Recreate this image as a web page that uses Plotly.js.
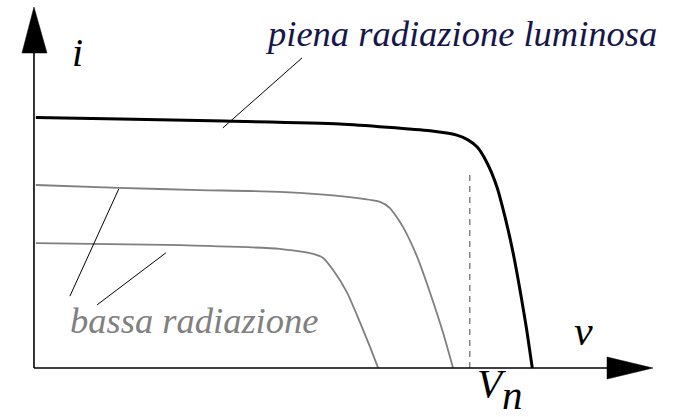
<!DOCTYPE html>
<html>
<head>
<meta charset="utf-8">
<script src="https://cdn.plot.ly/plotly-3.0.1.min.js"></script>
<style>html,body{margin:0;padding:0;background:#fff;}#chart{width:673px;height:417px;}</style>
</head>
<body>
<div id="chart"></div>
<script>
// Curve data (arbitrary units: v along x, i along y)
const fullV = [0.3, 13.9, 30.7, 49.4, 64.0, 68.3, 70.1, 71.6, 73.2, 74.8, 76.1, 77.4, 78.8, 79.6, 80.5];
const fullI = [69.4, 69.0, 68.4, 67.6, 65.7, 64.5, 63.2, 61.2, 56.8, 50.1, 41.8, 31.9, 18.8, 10.5, 0];

const lowV1 = [0.3, 13.7, 26.8, 39.7, 50.6, 55.9, 57.5, 59.6, 61.9, 64.0, 66.1, 67.7];
const lowI1 = [50.7, 49.9, 49.3, 48.8, 47.4, 46.0, 44.3, 39.1, 30.8, 20.8, 9.7, 0];

const lowV2 = [0.3, 21.3, 39.7, 45.1, 46.7, 48.3, 50.6, 52.7, 54.3, 55.6];
const lowI2 = [34.6, 34.1, 33.0, 31.6, 30.5, 27.2, 20.8, 12.5, 5.8, 0];

const vnX = [70.4, 70.4];
const vnY = [0, 54.3];

const labels = {
  full: 'piena radiazione luminosa',
  low: 'bassa radiazione',
  i: 'i',
  v: 'v',
  Vn: 'V<sub style="font-size:41px !important">n</sub>'
};

const serif = 'Liberation Serif, Times New Roman, serif';

const traces = [
  {x: fullV, y: fullI, mode: 'lines', line: {color: '#000', width: 3, shape: 'spline', smoothing: 0.6}},
  {x: lowV1, y: lowI1, mode: 'lines', line: {color: '#7f7f7f', width: 1.8, shape: 'spline', smoothing: 0.6}},
  {x: lowV2, y: lowI2, mode: 'lines', line: {color: '#7f7f7f', width: 1.8, shape: 'spline', smoothing: 0.6}},
  {x: vnX, y: vnY, mode: 'lines', line: {color: '#666', width: 1.2, dash: '6px,5px'}}
];

const shapes = [
  // axes
  {type: 'line', x0: 0, y0: 0, x1: 93, y1: 0, line: {color: '#000', width: 1.6}},
  {type: 'line', x0: 0, y0: 0, x1: 0, y1: 88, line: {color: '#000', width: 1.6}},
  {type: 'path', path: 'M 92.57 3.05 L 100 0 L 92.57 -3.05 Z', fillcolor: '#000', line: {color: '#000', width: 0.5}},
  {type: 'path', path: 'M -1.94 87.26 L 0 100 L 2.10 87.26 Z', fillcolor: '#000', line: {color: '#000', width: 0.5}},
  // leader lines
  {type: 'line', x0: 43.3, y0: 85.9, x1: 30.5, y1: 66.5, line: {color: '#000', width: 1}},
  {type: 'line', x0: 13.7, y0: 49.6, x1: 5.8, y1: 19.9, line: {color: '#000', width: 1}},
  {type: 'line', x0: 21.3, y0: 31.9, x1: 10.2, y1: 17.5, line: {color: '#000', width: 1}}
];

function ann(text, x, y, size, color) {
  return {text: '<i>' + text + '</i>', x: x, y: y, xref: 'x', yref: 'y', xanchor: 'left', yanchor: 'middle',
    showarrow: false, font: {family: serif, size: size, color: color}};
}

const annotations = [
  ann(labels.full, 37.0, 92.8, 36.5, '#16164a'),
  ann(labels.low, 5.5, 13.3, 36.5, '#808080'),
  ann(labels.i, 5.8, 87.3, 40, '#000'),
  ann(labels.v, 86.9, 10.25, 42, '#000'),
  ann(labels.Vn, 71.2, -5.8, 41, '#000')
];

const layout = {
  width: 673, height: 417,
  margin: {l: 0, r: 0, t: 0, b: 0},
  paper_bgcolor: '#fff', plot_bgcolor: '#fff',
  showlegend: false,
  xaxis: {range: [-5.49, 103.23], visible: false, fixedrange: true},
  yaxis: {range: [-13.57, 101.94], visible: false, fixedrange: true},
  shapes: shapes,
  annotations: annotations,
  hovermode: false
};

Plotly.newPlot('chart', traces, layout, {staticPlot: true, displayModeBar: false});
</script>
</body>
</html>
